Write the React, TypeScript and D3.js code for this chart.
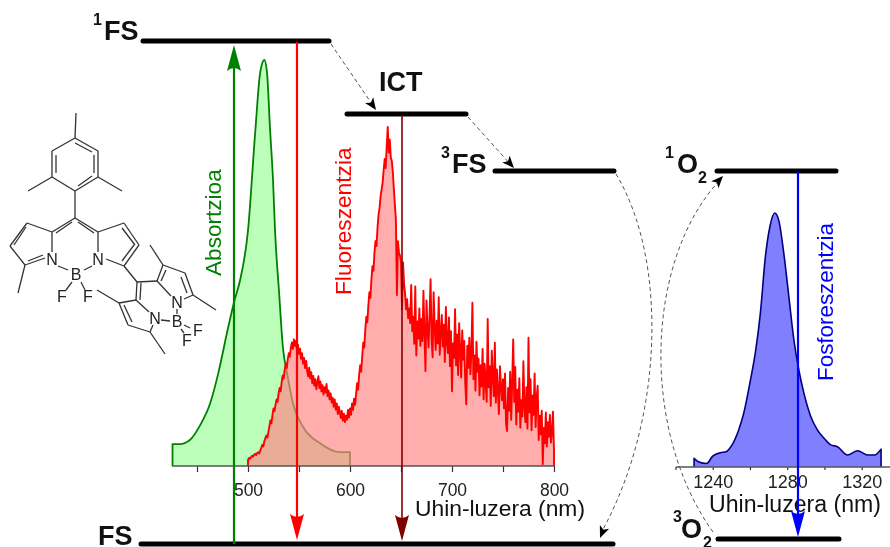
import { useEffect, useRef } from 'react';
import * as d3 from 'd3';

const FONT = '"Liberation Sans", Arial, sans-serif';

// Absorption spectrum (nm, relative intensity)
const absWavelengths = [426, 433, 443, 453, 463, 471, 480, 487, 492, 500, 507, 512, 516, 518.6, 521.6, 524.5, 526.5, 530.4, 534.3, 538.2, 544, 554, 570.6, 590, 600];
const absValues = [5.4, 5.4, 6.4, 10, 15.5, 23, 33.5, 41, 45.5, 58, 82, 97, 100, 97, 83, 70.5, 58, 43, 29, 23, 15.5, 9.6, 5.6, 3.4, 3.4];

// Fluorescence spectrum, one value per nm starting at 500 nm
const fluoStart = 500;
const fluoValues = [
  1.5, 2.0, 1.8, 2.2, 2.5, 2.3, 2.8, 3.0, 2.7, 3.2,
  3.4, 3.1, 3.8, 4.5, 5.2, 4.8, 6.1, 6.8, 7.5, 7.0,
  8.4, 9.8, 11.2, 10.5, 12.6, 14.2, 13.5, 15.1, 16.4, 15.8,
  17.9, 19.2, 18.4, 20.6, 22.3, 21.5, 23.8, 25.2, 24.1, 26.4,
  27.8, 26.9, 29.1, 30.4, 28.8, 31.2, 29.6, 30.8, 28.4, 29.9,
  27.6, 28.9, 26.4, 27.8, 25.2, 26.6, 24.1, 25.9, 23.4, 22.1,
  24.2, 21.6, 23.1, 20.4, 22.2, 19.8, 21.4, 18.9, 20.6, 22.1,
  19.2, 20.8, 18.4, 19.9, 17.6, 19.4, 18.1, 20.2, 17.2, 18.6,
  16.4, 17.9, 15.6, 16.8, 14.6, 16.4, 13.9, 15.4, 12.8, 14.6,
  13.4, 11.8, 13.6, 11.2, 12.9, 10.8, 12.4, 11.4, 13.8, 11.9,
  14.2, 12.6, 15.4, 13.8, 16.6, 15.1, 17.8, 20.4, 18.8, 22.6,
  24.8, 23.2, 27.1, 30.4, 29.2, 33.6, 36.8, 35.4, 39.6, 42.8,
  41.4, 45.9, 49.2, 48.1, 52.6, 55.4, 54.2, 58.8, 61.9, 63.6,
  66.4, 68.2, 69.8, 72.9, 75.6, 73.4, 78.8, 83.5, 77.2, 80.4,
  76.0, 75.1, 72.4, 68.2, 64.4, 60.8, 42.1, 55.4, 52.6, 51.8,
  50.2, 38.6, 50.2, 44.8, 42.4, 38.6, 41.1, 36.4, 38.8, 35.2,
  44.6, 33.2, 36.8, 30.1, 44.2, 27.2, 35.6, 31.4, 38.8, 29.6,
  36.2, 30.8, 43.2, 32.4, 23.4, 40.8, 33.6, 29.2, 37.4, 46.0,
  31.2, 26.8, 42.8, 34.4, 28.6, 35.8, 30.2, 41.6, 27.4, 32.8,
  37.2, 29.4, 34.8, 25.6, 39.2, 30.4, 27.8, 36.6, 24.6, 33.2,
  18.4, 30.2, 26.6, 38.6, 24.8, 32.4, 22.4, 35.2, 28.6, 21.8,
  33.4, 26.2, 30.8, 20.4, 15.2, 29.6, 24.2, 31.6, 22.6, 27.8,
  40.2, 21.4, 27.2, 18.6, 30.6, 23.2, 26.4, 17.4, 24.8, 19.6,
  28.8, 16.4, 25.2, 20.8, 15.8, 36.2, 19.4, 24.6, 14.8, 28.4,
  22.2, 17.2, 30.4, 15.6, 23.8, 18.6, 12.8, 24.6, 19.8, 16.2,
  21.4, 14.2, 22.8, 10.4, 8.6, 19.2, 13.6, 23.2, 11.4, 20.4,
  31.2, 15.8, 24.4, 10.2, 18.8, 13.4, 21.6, 9.4, 16.2, 12.2,
  25.8, 14.6, 10.8, 19.4, 9.2, 31.6, 13.2, 21.4, 8.8, 17.4,
  12.6, 22.8, 9.6, 16.8, 19.8, 6.4, 12.4, 7.8, 13.6, 0.4,
  9.4, 5.6, 13.2, 4.8, 10.8, 7.2, 12.6, 5.8, 8.4, 13.4,
  3.6,
];

// Singlet oxygen phosphorescence
const phosWavelengths = [1230, 1232.3, 1236.8, 1240, 1244, 1247.2, 1250.3, 1253.9, 1256.6, 1260.2, 1262.9, 1265.6, 1268.3, 1270.7, 1273.3, 1275.5, 1278.2, 1280.9, 1283.6, 1286.3, 1289, 1292.6, 1296.2, 1299.8, 1303.4, 1307, 1312.4, 1317.8, 1323.2, 1326.8, 1330.4];
const phosValues = [3.4, 2.1, 1.4, 4.3, 5.6, 6, 8.6, 14.5, 21, 34, 45, 60.6, 82.8, 94.6, 100, 97, 84, 67, 50, 38, 29, 20, 14.6, 11.3, 8.7, 8, 4.7, 6.4, 4.7, 4.7, 7];

const leftTicks = [450, 500, 550, 600, 650, 700, 750, 800];
const leftLabels = [500, 600, 700, 800];
const rightTicks = [1220, 1240, 1260, 1280, 1300, 1320];
const rightLabels = [1240, 1280, 1320];

const App = () => {
  const svgRef = useRef<SVGSVGElement>(null);

  useEffect(() => {
    const svg = d3.select(svgRef.current);
    svg.selectAll('*').remove();

    const yBase = 466;
    const xLeft = d3.scaleLinear().domain([500, 800]).range([248, 554]);
    const yAbs = d3.scaleLinear().domain([0, 100]).range([yBase, 60]);
    const xRight = d3.scaleLinear().domain([1240, 1320]).range([712.7, 861.7]);
    const yPhos = d3.scaleLinear().domain([0, 100]).range([467, 213]);

    const spectrum = (
      xs: number[],
      ys: number[],
      x: d3.ScaleLinear<number, number>,
      y: d3.ScaleLinear<number, number>,
      fill: string,
      stroke: string,
      width: number,
      curve: d3.CurveFactory
    ) => {
      const pts: [number, number][] = xs.map((d, i) => [d, ys[i]]);
      const area = d3
        .area<[number, number]>()
        .x((d) => x(d[0]))
        .y0(y(0))
        .y1((d) => y(d[1]))
        .curve(curve);
      svg.append('path').attr('d', area(pts)).attr('fill', fill);
      const line = d3
        .line<[number, number]>()
        .x((d) => x(d[0]))
        .y((d) => y(d[1]))
        .curve(curve);
      // the outline drops to the baseline at both ends
      const first = pts[0];
      const last = pts[pts.length - 1];
      const a = line(pts) as string;
      svg
        .append('path')
        .attr('d', `M${x(first[0])},${y(0)}L${a.slice(1)}L${x(last[0])},${y(0)}`)
        .attr('fill', 'none')
        .attr('stroke', stroke)
        .attr('stroke-width', width)
        .attr('stroke-linejoin', 'round');
    };

    spectrum(absWavelengths, absValues, xLeft, yAbs, '#bbffbb', '#008000', 1.8, d3.curveMonotoneX);
    spectrum(
      fluoValues.map((_, i) => fluoStart + i),
      fluoValues,
      xLeft,
      yAbs,
      'rgba(255,134,134,0.68)',
      '#ff0000',
      1.9,
      d3.curveLinear
    );
    spectrum(phosWavelengths, phosValues, xRight, yPhos, '#8080ff', '#000080', 1.6, d3.curveMonotoneX);

    // Axes
    const drawAxis = (
      x: d3.ScaleLinear<number, number>,
      ticks: number[],
      labels: number[],
      y: number,
      x0: number,
      x1: number,
      tickLen: number,
      padding: number,
      size: number
    ) => {
      const g = svg.append('g').attr('transform', `translate(0,${y})`);
      g.call(
        d3
          .axisBottom(x)
          .tickValues(ticks)
          .tickSize(tickLen)
          .tickPadding(padding)
          .tickFormat((d) => (labels.includes(+d) ? String(d) : ''))
      );
      g.select('.domain').remove();
      g.append('line').attr('x1', x0).attr('x2', x1).attr('stroke', '#555').attr('stroke-width', 1.6);
      g.selectAll('.tick line').attr('stroke', '#333').attr('stroke-width', 1.2);
      g.selectAll('text').attr('font-family', FONT).attr('font-size', size).attr('fill', '#222');
    };
    drawAxis(xLeft, leftTicks, leftLabels, yBase, 172, 554, 6, 12, 17.5);
    drawAxis(xRight, rightTicks, rightLabels, 467, 676, 890, 3, 5, 18);

    const label = (
      txt: string,
      x: number,
      y: number,
      size: number,
      opts: { bold?: boolean; fill?: string; rotate?: boolean; length?: number } = {}
    ) => {
      const t = svg
        .append('text')
        .attr('transform', `translate(${x},${y})${opts.rotate ? ' rotate(-90)' : ''}`)
        .attr('font-family', FONT)
        .attr('font-size', size)
        .attr('font-weight', opts.bold ? 700 : 400)
        .attr('fill', opts.fill || '#111')
        .text(txt);
      if (opts.length) t.attr('textLength', opts.length).attr('lengthAdjust', 'spacingAndGlyphs');
    };

    label('Uhin-luzera (nm)', 415, 516, 21.5, { length: 170 });
    label('Uhin-luzera (nm)', 709, 512, 23, { length: 172 });
    label('Absortzioa', 221, 276, 22.6, { fill: '#008000', rotate: true });
    label('Fluoreszentzia', 351, 295, 22.7, { fill: '#ff0000', rotate: true });
    label('Fosforeszentzia', 833, 381, 22.4, { fill: '#0000ff', rotate: true });

    // Energy levels
    const levels: [number, number, number][] = [
      [143, 329, 41],
      [347, 466, 114],
      [495, 614, 171],
      [141, 613, 544],
      [717, 836, 171],
      [718, 839, 539],
    ];
    svg
      .selectAll('.level')
      .data(levels)
      .join('line')
      .attr('x1', (d) => d[0])
      .attr('x2', (d) => d[1])
      .attr('y1', (d) => d[2])
      .attr('y2', (d) => d[2])
      .attr('stroke', '#000')
      .attr('stroke-width', 5)
      .attr('stroke-linecap', 'round');

    label('FS', 104, 40, 27, { bold: true });
    label('1', 93, 25, 16, { bold: true });
    label('ICT', 379, 91, 27, { bold: true });
    label('FS', 452, 173, 27, { bold: true });
    label('3', 441, 158, 16, { bold: true });
    label('FS', 98, 545, 27, { bold: true });
    label('O', 677, 173, 27, { bold: true });
    label('1', 665, 158, 16, { bold: true });
    label('2', 698, 183, 16, { bold: true });
    label('O', 681, 538, 27, { bold: true });
    label('3', 673, 522, 16, { bold: true });
    label('2', 703, 548, 16, { bold: true });

    // Transition arrows: barbed head pointing at the tip
    const arrow = (x: number, y0: number, tip: number, color: string, w: number) => {
      const dir = tip > y0 ? 1 : -1;
      const len = 26;
      svg
        .append('line')
        .attr('x1', x)
        .attr('x2', x)
        .attr('y1', y0)
        .attr('y2', tip - dir * 8)
        .attr('stroke', color)
        .attr('stroke-width', w);
      svg
        .append('path')
        .attr(
          'd',
          `M${x},${tip}L${x - 7},${tip - dir * len}Q${x},${tip - dir * 20} ${x + 7},${tip - dir * len}Z`
        )
        .attr('fill', color);
    };
    arrow(234, 544, 45, '#008000', 2.2);
    arrow(297, 42, 540, '#ff0000', 2.2);
    arrow(402, 115, 541, '#800000', 1.6);
    arrow(798, 172, 537, '#0000ff', 2.2);

    // Non-radiative dashed paths
    const dashed = (d: string, end?: [number, number, number]) => {
      svg
        .append('path')
        .attr('d', d)
        .attr('fill', 'none')
        .attr('stroke', '#555')
        .attr('stroke-width', 1)
        .attr('stroke-dasharray', '4 3');
      if (end) {
        const [x, y, a] = end;
        svg
          .append('path')
          .attr('d', 'M0,0L-12,-5L-9,0L-12,5Z')
          .attr('transform', `translate(${x},${y}) rotate(${a})`)
          .attr('fill', '#000');
      }
    };
    dashed('M331,44L374,107', [376, 110, 55]);
    dashed('M468,117L511,165', [514, 168, 48]);
    dashed('M616,174C668,260 664,420 601,533', [600, 538, 112]);
    dashed('M713,532C640,430 645,260 720,180', [723, 176, -47]);

    // Molecular structure
    const mol = svg.append('g').attr('stroke', '#333').attr('stroke-width', 1.3).attr('fill', 'none');
    const bonds: [number, number, number, number][] = [
      [76, 113, 75, 138], [75, 138, 98, 151], [98, 151, 98, 177], [98, 177, 75, 191],
      [75, 191, 52, 177], [52, 177, 52, 151], [52, 151, 75, 138], [98, 177, 122, 191],
      [52, 177, 28, 191], [75, 191, 75, 218], [94, 155, 94, 173], [56, 155, 56, 173],
      [75, 143, 92, 152], [78, 186, 92, 176],
      [75, 218, 52, 232], [75, 218, 98, 232], [72, 222, 56, 233], [78, 222, 94, 233],
      [52, 232, 27, 223], [27, 223, 10, 246], [10, 246, 25, 265], [25, 265, 45, 258],
      [52, 232, 52, 252], [26, 227, 14, 245], [28, 261, 43, 255], [25, 265, 18, 293],
      [98, 232, 124, 223], [124, 223, 139, 245], [139, 245, 124, 266], [124, 266, 106, 259],
      [98, 232, 98, 252], [122, 228, 135, 245], [122, 261, 134, 245],
      [58, 266, 68, 270], [92, 266, 84, 270], [72, 282, 66, 290], [81, 282, 85, 290],
      [124, 266, 137, 282], [137, 282, 136, 300], [141, 283, 140, 300], [137, 282, 157, 281],
      [157, 281, 163, 265], [161, 281, 166, 270], [163, 265, 185, 273], [185, 273, 193, 295],
      [181, 277, 187, 293], [193, 295, 184, 299], [157, 281, 171, 296], [163, 265, 150, 245],
      [193, 295, 216, 310], [177, 309, 177, 314],
      [136, 300, 119, 303], [119, 303, 128, 325], [124, 305, 132, 322], [128, 325, 150, 332],
      [150, 332, 153, 325], [136, 300, 149, 312], [119, 303, 97, 290], [150, 332, 165, 354],
      [161, 320, 170, 321], [184, 325, 190, 328], [181, 329, 184, 333],
    ];
    mol
      .selectAll('line')
      .data(bonds)
      .join('line')
      .attr('x1', (d) => d[0])
      .attr('y1', (d) => d[1])
      .attr('x2', (d) => d[2])
      .attr('y2', (d) => d[3]);
    const atoms: [string, number, number][] = [
      ['N', 52, 259], ['N', 98, 259], ['B', 76, 274], ['F', 62, 296], ['F', 88, 296],
      ['N', 177, 302], ['N', 155, 318], ['B', 177, 321], ['F', 198, 330], ['F', 187, 340],
    ];
    atoms.forEach(([a, x, y]) => {
      svg
        .append('text')
        .attr('x', x)
        .attr('y', y + 6)
        .attr('text-anchor', 'middle')
        .attr('font-family', FONT)
        .attr('font-size', 16)
        .attr('fill', '#222')
        .text(a);
    });
  }, []);

  return (
    <svg
      ref={svgRef}
      width={890}
      height={547}
      style={{ position: 'absolute', left: 0, top: 0, background: '#fff', filter: 'blur(0.35px)' }}
    />
  );
};

export default App;
